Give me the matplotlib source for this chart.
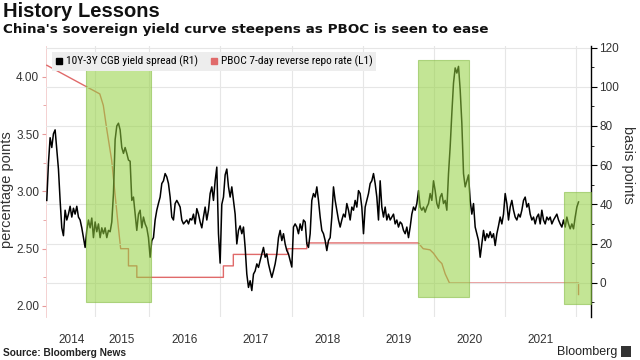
import pandas as pd
import matplotlib.pyplot as plt
from matplotlib import font_manager
from matplotlib.lines import Line2D
from matplotlib.patches import Rectangle

# 10Y-3Y CGB yield spread in basis points (right axis)
spread_start = '2014-07-25'
spread_end = '2022-01-12'
spread_bp = [
    42, 61, 74, 69, 76, 78, 68, 58, 42, 28, 24, 37, 32, 35, 39, 33.5, 38, 35, 39, 33.5,
    32, 28, 23, 18, 26.7, 32, 28, 33, 23, 31, 26, 30, 23, 28, 25, 28, 23, 26.7, 26, 31,
    45.5, 73, 80, 81.4, 78, 69, 66, 69, 66, 62.6,
    62, 42, 43.7, 35, 26.7, 35, 37, 28, 33.5, 30, 28, 23, 13, 21.5, 23, 32, 37, 40.5, 43.7, 50.6,
    52, 55.7, 54, 50.6, 43.7, 33.5, 32, 40.4, 42, 40.4, 38.6, 32, 30, 31, 32, 30, 32.7, 32, 35, 30,
    37.8, 35, 31, 28, 33.5, 38.6, 32, 37, 45.5, 48.9, 42, 52, 59, 25,
    10, 40, 43.7, 55, 58, 49, 43.7, 48.9, 42, 35, 19.8, 26.7, 29, 25, 28.4, 18, 4.4, -2.4, 1, -4,
    4.4, 6, 9.6, 7.8, 11.3, 14.7, 18, 13, 14.7, 9.6, 6, 2.7, 6, 9.6, 14.7, 23, 26.7, 21.5, 25, 19.8,
    16.4, 14.7, 11.3, 8, 28.4, 30, 28.4, 25, 30, 26.7, 32, 31, 19.8, 18,
    25, 42, 45.5, 43.7, 48.9, 42, 33.5, 26.7, 25, 21.5, 16.4, 21.5, 23, 33.5, 48.9, 42, 37, 32, 28.4, 32,
    35, 33.5, 40.4, 37, 32, 38.6, 37, 42, 38.6, 47, 45.5, 38.6, 25, 38.6, 42, 45.5, 50.6, 52, 55.7, 50.6,
    43.7, 32, 52, 38.6, 33.5, 38.6, 32, 35, 32, 33.5, 35, 30, 32, 28.4,
    31, 30, 26.7, 25, 28.4, 23, 28.4, 35, 38.6, 37, 40.4, 47, 38.6, 37, 38.6, 36, 38.6, 40.4, 45.5, 42,
    52, 47, 40.4, 38, 43.7, 45.5, 40.4, 42, 37, 55.7, 69.4, 86.5, 101.9, 109.6, 107, 110.4, 98.5, 81.4, 55.7, 48.9,
    52, 55, 42, 35, 40.4, 28.4, 25, 21.5, 13, 19.8, 26.7, 21.5, 25, 23, 26, 23, 25,
    19, 25, 29, 33.5, 30, 35, 45.5, 40.4, 32, 38.6, 42, 37, 33.5, 32, 35, 33.5, 37, 42, 43.7, 38.6,
    40.4, 35, 32, 33.5, 30, 33.5, 35, 30, 37, 32, 30, 33.5, 32, 33.5, 30, 32, 33.5, 35, 32, 30,
    28.4, 32, 28.4, 33.5, 30, 27.5, 30, 27.5, 33.5, 38.6, 41.2,
]

# PBOC 7-day reverse repo rate in percent (left axis)
repo_dates = [
    '2014-07-25', '2015-04-23', '2015-05-11', '2015-05-28', '2015-06-23', '2015-07-10',
    '2015-07-27', '2015-08-08', '2015-09-17', '2015-09-17', '2015-10-30', '2015-10-30',
    '2017-01-16', '2017-01-16', '2017-03-08', '2017-03-08', '2017-12-12', '2017-12-12',
    '2018-03-20', '2018-03-20', '2019-10-13', '2019-11-07', '2019-12-12', '2019-12-30',
    '2020-01-24', '2020-02-11', '2020-02-28', '2020-03-21', '2022-01-12', '2022-01-12',
]
repo_rate = [
    4.10, 3.85, 3.75, 3.55, 3.27, 2.98,
    2.69, 2.50, 2.50, 2.35, 2.35, 2.25,
    2.25, 2.35, 2.35, 2.45, 2.45, 2.50,
    2.50, 2.55, 2.55, 2.50, 2.49, 2.46,
    2.40, 2.37, 2.28, 2.20, 2.20, 2.10,
]

# easing periods highlighted in green (y bounds in basis points)
ease_start = ['2015-02-10', '2019-10-13', '2021-11-01']
ease_end = ['2016-01-09', '2020-06-27', '2022-03-16']
ease_low = [-10.1, -7.4, -10.8]
ease_high = [112.5, 113.5, 46.3]

year_labels = ['2014', '2015', '2016', '2017', '2018', '2019', '2020', '2021']
year_label_dates = ['2014-12-01', '2015-08-15', '2016-07-02', '2017-07-02',
                    '2018-07-02', '2019-07-02', '2020-07-02', '2021-07-02']
grid_dates = ['2015-03-29', '2016-01-01', '2017-01-01', '2018-01-01',
              '2019-01-01', '2020-01-01', '2021-01-01', '2022-01-01']

plt.rcParams['font.family'] = ['Liberation Sans', 'DejaVu Sans']

installed = {f.name for f in font_manager.fontManager.ttflist}
narrow = 'Liberation Sans'
for cand in ['Liberation Sans Narrow', 'DejaVu Sans Condensed', 'Roboto Condensed']:
    if cand in installed:
        narrow = cand
        break

fig = plt.figure(figsize=(6.4, 3.6), dpi=100)
ax = fig.add_axes([46 / 640, 1 - 317 / 360, 545 / 640, 271 / 360])
ax2 = ax.twinx()

dates = pd.date_range(spread_start, spread_end, periods=len(spread_bp))
red = '#e06a6a'

ax.plot(pd.to_datetime(repo_dates), repo_rate, color=red, lw=1.0, zorder=3)
ax2.plot(dates, spread_bp, color='black', lw=1.1, zorder=3)

for s, e, lo, hi in zip(ease_start, ease_end, ease_low, ease_high):
    x0 = pd.Timestamp(s)
    x1 = pd.Timestamp(e)
    ax2.fill_between([x0, x1], lo, hi, facecolor='#93d13f', alpha=0.55,
                     edgecolor='#7fb83a', lw=0.8, zorder=5)

ax.set_xlim(pd.Timestamp('2014-07-21'), pd.Timestamp('2022-03-17'))
ax.set_ylim(1.904, 4.268)
ax2.set_ylim(-17.5, 120.8)

# left axis
ax.set_yticks([2.0, 2.5, 3.0, 3.5, 4.0])
ax.set_yticklabels(['%.2f' % v for v in [2.0, 2.5, 3.0, 3.5, 4.0]])
ax.set_yticks([2.25, 2.75, 3.25, 3.75], minor=True)
ax.tick_params(axis='y', which='major', length=3, color='#e79a9a', labelsize=8.5,
               labelcolor='#333333', pad=2)
ax.tick_params(axis='y', which='minor', length=2, color='#e79a9a')
ax.set_ylabel('percentage points', fontsize=10.5, color='#333333')
ax.yaxis.set_label_coords(-0.059, 0.47)

# right axis
ax2.set_yticks(range(0, 121, 20))
ax2.set_yticks(range(-10, 121, 10), minor=True)
ax2.tick_params(axis='y', which='major', length=4, color='black', labelsize=8.5,
                labelcolor='#333333', pad=2)
ax2.tick_params(axis='y', which='minor', length=2, color='black')
ax2.set_ylabel('basis points', fontsize=10.5, color='#333333', rotation=270, va='center')
ax2.yaxis.set_label_coords(1.068, 0.56)

# x axis: gridlines at year boundaries, labels centred inside the years
ax.set_xticks(pd.to_datetime(grid_dates))
ax.set_xticklabels([''] * len(grid_dates))
ax.set_xticks(pd.to_datetime(year_label_dates), minor=True)
ax.set_xticklabels(year_labels, minor=True)
ax.tick_params(axis='x', which='both', length=0, labelsize=8.5, labelcolor='#333333', pad=12)

ax.grid(axis='x', color='#e6e6e6', lw=0.8)
ax2.grid(axis='y', color='#e6e6e6', lw=0.8, zorder=0)
ax.set_axisbelow(True)
ax2.set_axisbelow(True)

for a in (ax, ax2):
    a.spines['top'].set_visible(False)
    a.spines['bottom'].set_visible(False)
ax2.spines['left'].set_visible(False)
ax.spines['right'].set_visible(False)
ax.spines['left'].set_color('#f2caca')
ax.spines['left'].set_linewidth(0.6)
ax2.spines['right'].set_color('black')
ax2.spines['right'].set_linewidth(1.0)

handles = [Line2D([], [], marker='s', color='black', ls='None', markersize=5),
           Line2D([], [], marker='s', color=red, ls='None', markersize=5)]
leg = ax2.legend(handles, ['10Y-3Y CGB yield spread (R1)', 'PBOC 7-day reverse repo rate (L1)'],
                 loc='upper left', bbox_to_anchor=(0.0, 0.998), ncol=2, frameon=True,
                 facecolor='#ededed', edgecolor='none', framealpha=1, fancybox=False,
                 prop={'family': narrow, 'size': 8.2 if narrow != 'Liberation Sans' else 7.4},
                 handlelength=0.7, handletextpad=0.3, columnspacing=1.0, borderpad=0.3)
leg.set_zorder(10)

fig.text(3 / 640, 1 - 2 / 360, 'History Lessons', fontsize=14.5, fontweight='bold',
         va='top', ha='left', color='#111111')
fig.text(3 / 640, 1 - 23 / 360, "China's sovereign yield curve steepens as PBOC is seen to ease",
         fontsize=9.7, fontweight='bold', va='top', ha='left', color='#111111',
         family='DejaVu Sans')
fig.text(3 / 640, 1 - 353 / 360, 'Source: Bloomberg News', fontsize=7.3, fontweight='bold',
         va='center', ha='left', color='#222222')
fig.text(617 / 640, 1 - 352 / 360, 'Bloomberg', fontsize=9, va='center', ha='right',
         color='#222222')
fig.patches.append(Rectangle((621 / 640, 1 - 357 / 360), 10 / 640, 11 / 360,
                             transform=fig.transFigure, facecolor='#333333', edgecolor='none'))

fig.savefig('out.png', dpi=100)
